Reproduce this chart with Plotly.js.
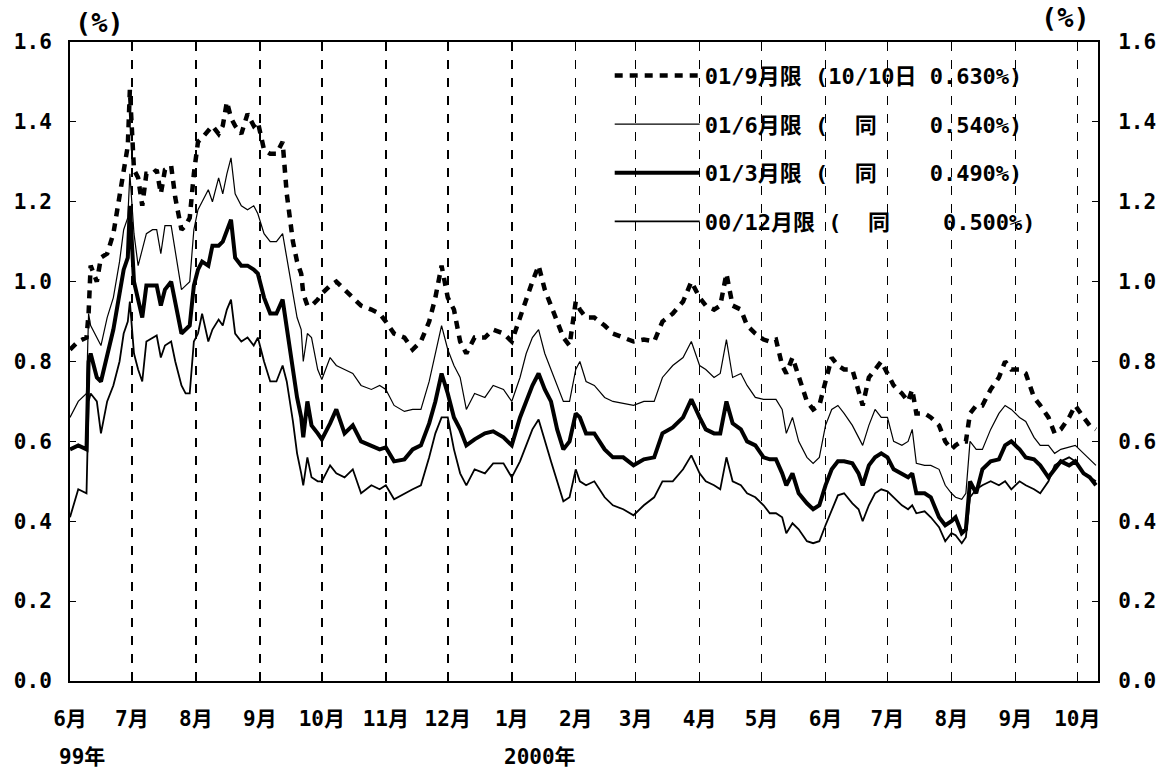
<!DOCTYPE html>
<html>
<head>
<meta charset="utf-8">
<script src="https://cdn.plot.ly/plotly-3.0.1.min.js"></script>
<style>html,body{margin:0;padding:0;background:#fff;}#chart{width:1167px;height:773px;}</style>
</head>
<body>
<div id="chart"></div>
<script>
var dates = [
'1999-06-01','1999-06-05','1999-06-09','1999-06-10','1999-06-11','1999-06-14','1999-06-16','1999-06-19','1999-06-22','1999-06-25',
'1999-06-27','1999-06-29','1999-06-30','1999-07-02','1999-07-04','1999-07-06','1999-07-08','1999-07-11','1999-07-13','1999-07-15',
'1999-07-17','1999-07-20','1999-07-22','1999-07-25','1999-07-27','1999-07-29','1999-07-31','1999-08-02','1999-08-04','1999-08-07',
'1999-08-09','1999-08-12','1999-08-14','1999-08-16','1999-08-18','1999-08-20','1999-08-23','1999-08-26','1999-08-29','1999-08-31',
'1999-09-03','1999-09-06','1999-09-09','1999-09-12','1999-09-14','1999-09-17','1999-09-19','1999-09-21','1999-09-22','1999-09-24',
'1999-09-26','1999-09-29','1999-10-01','1999-10-05','1999-10-08','1999-10-12','1999-10-16','1999-10-20','1999-10-25','1999-10-29',
'1999-11-01','1999-11-05','1999-11-10','1999-11-14','1999-11-18','1999-11-22','1999-11-25','1999-11-28','1999-12-01','1999-12-04',
'1999-12-07','1999-12-10','1999-12-14','1999-12-19','1999-12-23','1999-12-28','2000-01-01','2000-01-05','2000-01-08','2000-01-11',
'2000-01-14','2000-01-17','2000-01-20','2000-01-23','2000-01-26','2000-01-29','2000-02-01','2000-02-03','2000-02-06','2000-02-10',
'2000-02-15','2000-02-19','2000-02-24','2000-02-29','2000-03-05','2000-03-10','2000-03-14','2000-03-19','2000-03-24','2000-03-28',
'2000-04-01','2000-04-04','2000-04-08','2000-04-11','2000-04-14','2000-04-17','2000-04-21','2000-04-24','2000-04-28','2000-05-02',
'2000-05-05','2000-05-08','2000-05-11','2000-05-13','2000-05-16','2000-05-19','2000-05-23','2000-05-26','2000-05-29','2000-06-01',
'2000-06-04','2000-06-07','2000-06-10','2000-06-14','2000-06-17','2000-06-19','2000-06-22','2000-06-25','2000-06-28','2000-07-01',
'2000-07-04','2000-07-08','2000-07-11','2000-07-13','2000-07-15','2000-07-19','2000-07-22','2000-07-26','2000-07-29','2000-08-01',
'2000-08-03','2000-08-06','2000-08-08','2000-08-10','2000-08-13','2000-08-16','2000-08-20','2000-08-24','2000-08-27','2000-08-30',
'2000-09-03','2000-09-06','2000-09-10','2000-09-13','2000-09-17','2000-09-20','2000-09-23','2000-09-27','2000-09-30','2000-10-04',
'2000-10-07','2000-10-10'];

var sep01 = [
0.83,0.85,0.86,0.92,1.04,1.00,1.06,1.07,1.12,1.22,
1.28,1.34,1.48,1.28,1.26,1.19,1.27,1.27,1.28,1.22,
1.28,1.29,1.21,1.13,1.14,1.16,1.27,1.35,1.36,1.38,
1.39,1.37,1.39,1.45,1.41,1.39,1.37,1.42,1.39,1.40,
1.33,1.32,1.32,1.35,1.22,1.10,1.05,1.02,0.97,0.94,
0.94,0.955,0.97,0.99,1.00,0.98,0.96,0.94,0.93,0.92,
0.90,0.87,0.86,0.83,0.85,0.90,0.96,1.04,0.96,0.93,
0.85,0.82,0.86,0.86,0.88,0.87,0.85,0.91,0.96,1.00,
1.04,0.98,0.94,0.90,0.86,0.84,0.95,0.93,0.91,0.91,
0.89,0.87,0.86,0.85,0.855,0.85,0.90,0.92,0.95,1.00,
0.96,0.94,0.93,0.94,1.02,0.94,0.93,0.89,0.87,0.855,
0.85,0.855,0.79,0.77,0.81,0.76,0.70,0.68,0.69,0.75,
0.81,0.79,0.78,0.78,0.73,0.69,0.76,0.78,0.80,0.77,
0.74,0.72,0.70,0.73,0.67,0.67,0.66,0.64,0.60,0.58,
0.59,0.60,0.60,0.67,0.69,0.69,0.73,0.76,0.80,0.78,
0.78,0.77,0.71,0.69,0.66,0.62,0.63,0.66,0.69,0.66,
0.64,0.63];

var jun01 = [
0.66,0.70,0.72,0.92,0.89,0.86,0.84,0.91,0.96,1.05,
1.13,1.16,1.27,1.12,1.04,1.08,1.12,1.13,1.13,1.07,
1.14,1.14,1.08,0.98,0.99,1.00,1.13,1.18,1.20,1.23,
1.20,1.26,1.22,1.27,1.31,1.22,1.19,1.18,1.19,1.17,
1.12,1.10,1.10,1.12,1.06,0.97,0.91,0.88,0.80,0.87,
0.86,0.78,0.755,0.81,0.79,0.78,0.77,0.74,0.73,0.74,
0.73,0.69,0.675,0.68,0.68,0.75,0.82,0.89,0.83,0.79,
0.76,0.68,0.72,0.71,0.74,0.73,0.70,0.76,0.82,0.86,
0.88,0.82,0.78,0.74,0.70,0.70,0.78,0.80,0.75,0.74,
0.71,0.70,0.695,0.69,0.70,0.70,0.76,0.79,0.81,0.85,
0.79,0.78,0.76,0.77,0.855,0.76,0.77,0.74,0.71,0.705,
0.705,0.705,0.68,0.62,0.66,0.60,0.56,0.545,0.56,0.64,
0.68,0.69,0.67,0.64,0.61,0.59,0.64,0.68,0.66,0.66,
0.60,0.59,0.60,0.63,0.545,0.54,0.54,0.53,0.49,0.47,
0.46,0.455,0.47,0.60,0.58,0.58,0.63,0.67,0.69,0.68,
0.66,0.65,0.61,0.59,0.59,0.57,0.58,0.585,0.59,0.57,
0.555,0.54];

var mar01 = [
0.58,0.59,0.58,0.80,0.82,0.76,0.75,0.82,0.88,0.97,
1.03,1.06,1.19,1.00,0.95,0.91,0.99,0.99,0.99,0.94,
0.98,1.00,0.95,0.87,0.88,0.89,0.99,1.03,1.05,1.04,
1.09,1.09,1.10,1.13,1.155,1.06,1.04,1.04,1.03,1.02,
0.96,0.92,0.92,0.955,0.88,0.78,0.71,0.66,0.61,0.70,
0.64,0.62,0.605,0.645,0.68,0.62,0.64,0.60,0.59,0.58,
0.585,0.55,0.555,0.58,0.59,0.645,0.70,0.77,0.72,0.66,
0.63,0.59,0.605,0.62,0.625,0.61,0.59,0.66,0.70,0.74,
0.77,0.73,0.70,0.63,0.58,0.60,0.67,0.66,0.62,0.62,
0.58,0.56,0.56,0.54,0.555,0.56,0.62,0.635,0.66,0.705,
0.66,0.63,0.62,0.62,0.70,0.645,0.63,0.60,0.59,0.56,
0.555,0.555,0.52,0.49,0.52,0.47,0.445,0.43,0.44,0.49,
0.53,0.55,0.55,0.545,0.52,0.49,0.54,0.56,0.57,0.56,
0.53,0.52,0.51,0.52,0.47,0.47,0.46,0.41,0.39,0.40,
0.41,0.37,0.38,0.50,0.47,0.53,0.55,0.555,0.59,0.60,
0.58,0.56,0.555,0.54,0.51,0.53,0.55,0.54,0.55,0.52,
0.51,0.49];

var dec00 = [
0.41,0.48,0.47,0.70,0.72,0.70,0.62,0.70,0.74,0.80,
0.87,0.90,0.95,0.82,0.78,0.75,0.85,0.86,0.865,0.81,
0.84,0.85,0.80,0.74,0.72,0.72,0.85,0.87,0.92,0.85,
0.88,0.905,0.89,0.93,0.955,0.87,0.85,0.86,0.84,0.86,
0.80,0.75,0.75,0.79,0.75,0.65,0.57,0.52,0.49,0.56,
0.51,0.50,0.50,0.54,0.52,0.51,0.53,0.47,0.49,0.48,
0.49,0.455,0.47,0.48,0.49,0.56,0.62,0.66,0.66,0.58,
0.52,0.49,0.53,0.52,0.545,0.545,0.51,0.55,0.59,0.63,
0.655,0.60,0.55,0.50,0.45,0.46,0.53,0.50,0.49,0.50,
0.46,0.44,0.43,0.415,0.44,0.46,0.50,0.50,0.53,0.565,
0.52,0.50,0.49,0.48,0.56,0.50,0.49,0.47,0.46,0.44,
0.42,0.42,0.41,0.37,0.395,0.38,0.35,0.345,0.35,0.39,
0.43,0.465,0.47,0.445,0.43,0.40,0.44,0.47,0.48,0.475,
0.46,0.44,0.43,0.44,0.42,0.425,0.41,0.385,0.35,0.37,
0.365,0.345,0.36,0.46,0.48,0.49,0.50,0.49,0.50,0.48,
0.50,0.49,0.48,0.47,0.50,0.54,0.55,0.56,0.55,0.52,
0.51,0.50];

var seriesNames = [
'01/9月限 (10/10日 0.630%)',
'01/6月限 (\u00a0\u00a0同\u00a0\u00a0\u00a0\u00a00.540%)',
'01/3月限 (\u00a0\u00a0同\u00a0\u00a0\u00a0\u00a00.490%)',
'00/12月限 (\u00a0\u00a0同\u00a0\u00a0\u00a0\u00a00.500%)'
];

var monthTickVals = ['1999-06-01','1999-07-01','1999-08-01','1999-09-01','1999-10-01','1999-11-01','1999-12-01',
'2000-01-01','2000-02-01','2000-03-01','2000-04-01','2000-05-01','2000-06-01','2000-07-01','2000-08-01','2000-09-01','2000-10-01'];
var monthTickText = ['6月','7月','8月','9月','10月','11月','12月','1月','2月','3月','4月','5月','6月','7月','8月','9月','10月'];
var yTickVals = [0,0.2,0.4,0.6,0.8,1.0,1.2,1.4,1.6];

var FONT = "'DejaVu Sans Mono','Noto Sans CJK JP',monospace";

var traces = [
  {x: dates, y: sep01, name: seriesNames[0], legendgroup:'a', mode:'lines', line:{color:'#000', width:4.5, dash:'8px,7px'}},
  {x: dates, y: jun01, name: seriesNames[1], legendgroup:'b', mode:'lines', line:{color:'#000', width:1.2}},
  {x: dates, y: mar01, name: seriesNames[2], legendgroup:'c', mode:'lines', line:{color:'#000', width:4}},
  {x: dates, y: dec00, name: seriesNames[3], legendgroup:'d', mode:'lines', line:{color:'#000', width:1.8}},
  {x: [dates[0]], y: [0], yaxis:'y2', mode:'markers', marker:{opacity:0}, showlegend:false, hoverinfo:'skip'}
];

var tf = {family: FONT, size: 21, color:'#000', weight:'bold'};
var pf = {family: FONT, size: 27, color:'#000', weight:'bold'};

var layout = {
  width: 1167, height: 773,
  margin: {l:70, r:69, t:42, b:92},
  paper_bgcolor:'#fff', plot_bgcolor:'#fff',
  font: tf,
  showlegend: true,
  legend: {
    x: 0.525, y: 0.98, xanchor:'left', yanchor:'top',
    bgcolor:'rgba(0,0,0,0)', borderwidth:0,
    font:{family: FONT, size: 22, color:'#000', weight:'bold'},
    itemwidth: 85, tracegroupgap: 17, traceorder:'grouped'
  },
  xaxis: {
    type:'date', range:['1999-06-01','2000-10-11'],
    tickmode:'array', tickvals: monthTickVals, ticktext: monthTickText,
    ticks:'', ticklabelstandoff: 18,
    showgrid:true, gridcolor:'#000', gridwidth:1.5, griddash:'9px,9px',
    showline:true, linecolor:'#000', linewidth:2, mirror:true,
    zeroline:false,
    tickfont: tf
  },
  yaxis: {
    range:[0,1.6], tickmode:'array', tickvals: yTickVals, tickformat:'.1f',
    ticks:'inside', ticklen:6, tickcolor:'#000', tickwidth:1,
    showgrid:false, zeroline:false,
    showline:true, linecolor:'#000', linewidth:2,
    ticklabelstandoff: 12,
    tickfont: tf
  },
  yaxis2: {
    overlaying:'y', side:'right', anchor:'x',
    range:[0,1.6], tickmode:'array', tickvals: yTickVals, tickformat:'.1f',
    ticks:'inside', ticklen:6, tickcolor:'#000', tickwidth:1,
    showgrid:false, zeroline:false,
    showline:true, linecolor:'#000', linewidth:2,
    ticklabelstandoff: 14,
    tickfont: tf
  },
  annotations: [
    {text:'(%)', xref:'paper', yref:'paper', x:0.029, y:1.031, xanchor:'center', yanchor:'middle', showarrow:false, font: pf},
    {text:'(%)', xref:'paper', yref:'paper', x:0.968, y:1.0376, xanchor:'center', yanchor:'middle', showarrow:false, font: pf},
    {text:'99年', xref:'paper', yref:'paper', x:0.0117, y:-0.119, xanchor:'center', yanchor:'middle', showarrow:false, font: tf},
    {text:'2000年', xref:'paper', yref:'paper', x:0.457, y:-0.119, xanchor:'center', yanchor:'middle', showarrow:false, font: tf}
  ]
};

Plotly.newPlot('chart', traces, layout, {displayModeBar:false, staticPlot:true});
</script>
</body>
</html>
